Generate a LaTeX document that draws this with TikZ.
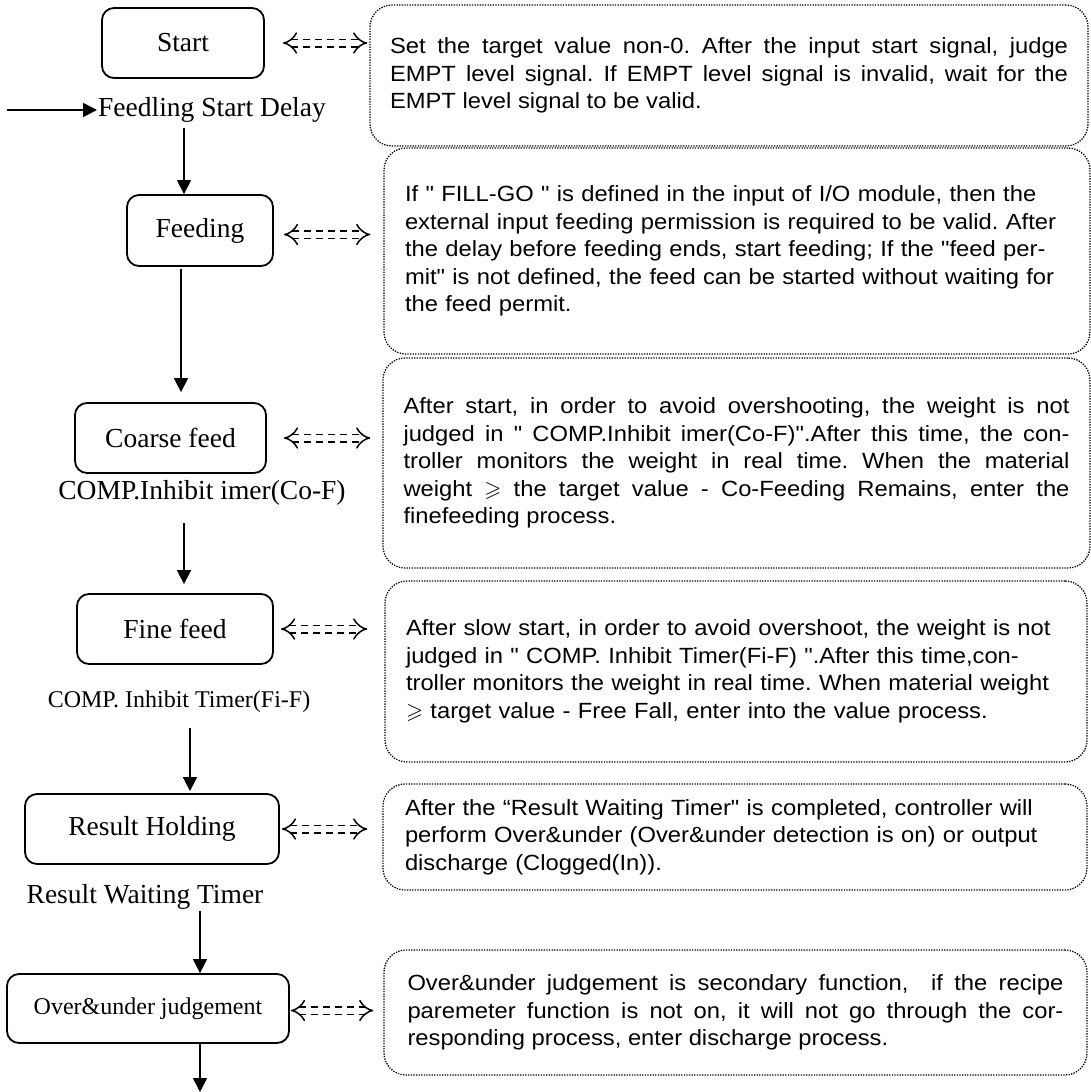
\documentclass[tikz,border=0pt]{standalone}
\usepackage{amssymb}
\usepackage{fontspec}
\setmainfont{Liberation Serif}
\newfontfamily\notefont[FakeStretch=1.08]{Liberation Sans}
\usepackage{tikz}
\usetikzlibrary{arrows.meta,positioning}
\tikzset{>={Triangle[width=14pt,length=14pt]}}
\tikzset{
  stepbox/.style={draw, line width=1.8pt, rounded corners=12pt, inner sep=0pt,
    font=\fontsize{27.5}{30}\selectfont},
  steplabel/.style={inner sep=1pt, font=\fontsize{27.5}{30}\selectfont},
  notebox/.style={draw, line width=1.3pt, dash pattern=on 1.3pt off 1.3pt,
    rounded corners=22pt, inner ysep=0pt, font=\notefont\fontsize{22}{27.5}\selectfont\frenchspacing},
  flow/.style={->, line width=1.6pt},
  link/.style={line width=1.5pt, dash pattern=on 7pt off 5pt, double, double distance=6pt,
    {Implies[length=10pt]}-{Implies[length=10pt]}},
}

\begin{document}
\begin{tikzpicture}[x=1pt, y=-1pt]
  \useasboundingbox (0,0) rectangle (1091,1092);

  % steps
  \node[stepbox, minimum width=162pt, minimum height=70pt] (start) at (183,43) {Start};
  \node[steplabel] (delay) at (212,110) {Feedling Start Delay};
  \node[stepbox, minimum width=146pt, minimum height=71pt] (feeding) at (200,230.5) {Feeding};
  \node[stepbox, minimum width=191pt, minimum height=70pt] (coarse) at (170.5,438) {Coarse feed};
  \node[steplabel] (coarset) at (202,493) {COMP.Inhibit imer(Co-F)};
  \node[stepbox, minimum width=196pt, minimum height=70pt] (fine) at (175,629) {Fine feed};
  \node[steplabel, font=\fontsize{24}{26}\selectfont] (finet) at (179,702) {COMP. Inhibit Timer(Fi-F)};
  \node[stepbox, minimum width=254pt, minimum height=70pt] (result) at (152,829) {Result Holding};
  \node[steplabel] (resultt) at (145,897) {Result Waiting Timer};
  \node[stepbox, minimum width=282pt, minimum height=69pt, font=\fontsize{24}{26}\selectfont] (judge) at (148,1008.5) {Over\&under judgement};
  \coordinate (in) at (7,110);
  \coordinate (out) at (200,1092);

  % notes
  \node[notebox, text width=678pt, inner xsep=20pt, minimum height=141pt, align=justify] (n1) at (729,75.5)
    {Set the target value non-0. After the input start signal, judge\linebreak
     EMPT level signal. If EMPT level signal is invalid, wait for the\linebreak
     EMPT level signal to be valid.};
  \node[notebox, text width=664pt, inner xsep=21pt, minimum height=206pt, align=left] (n2) at (737,251)
    {If " FILL-GO " is defined in the input of I/O module, then the\\
     external input feeding permission is required to be valid. After\\
     the delay before feeding ends, start feeding; If the "feed per-\\
     mit" is not defined, the feed can be started without waiting for\\
     the feed permit.};
  \node[notebox, text width=666pt, inner xsep=20.5pt, minimum height=210pt, align=justify] (n3) at (736.5,463)
    {After start, in order to avoid overshooting, the weight is not\linebreak
     judged in " COMP.Inhibit imer(Co-F)".After this time, the con-\linebreak
     troller monitors the weight in real time. When the material\linebreak
     weight $\geqslant$ the target value - Co-Feeding Remains, enter the\linebreak
     finefeeding process.};
  \node[notebox, text width=660pt, inner xsep=21pt, minimum height=181pt, align=left] (n4) at (736,671.5)
    {After slow start, in order to avoid overshoot, the weight is not\\
     judged in " COMP. Inhibit Timer(Fi-F) ".After this time,con-\\
     troller monitors the weight in real time. When material weight\\
     $\geqslant$\ target value - Free Fall, enter into the value process.};
  \node[notebox, text width=660pt, inner xsep=22pt, minimum height=106pt, align=left] (n5) at (735,837)
    {After the “Result Waiting Timer" is completed, controller will\\
     perform Over\&under (Over\&under detection is on) or output\\
     discharge (Clogged(In)).};
  \node[notebox, text width=656pt, inner xsep=23.5pt, minimum height=125pt, align=justify] (n6) at (735.5,1012.5)
    {Over\&under judgement is secondary function,~~if the recipe\linebreak
     paremeter function is not on, it will not go through the cor-\linebreak
     responding process, enter discharge process.};

  % flow
  \draw[flow] (in) -- (delay.west);
  \draw[flow, shorten <=4pt] ([xshift=-28pt]delay.south) -- ([xshift=-16pt]feeding.north); %% delay->feeding
  \draw[flow, shorten <=2pt, shorten >=10pt] ([xshift=-19pt]feeding.south) -- ([xshift=10.5pt]coarse.north); %% feeding->coarse
  \draw[flow, shorten <=16pt, shorten >=9pt] ([xshift=-18pt]coarset.south) -- ([xshift=9pt]fine.north); %% coarse->fine
  \draw[flow, shorten <=14pt, shorten >=2pt] ([xshift=11pt]finet.south) -- ([xshift=38pt]result.north); %% fine->result
  \draw[flow] ([xshift=55pt]resultt.south) -- ([xshift=52pt]judge.north); %% result->judge
  \draw[flow] ([xshift=52pt]judge.south) -- (out); %% judge->out

  % links
  \draw[link, shorten <=18pt, shorten >=2pt] (start.east) -- (start.east -| n1.west);
  \draw[link, shorten <=10pt, shorten >=13pt] ([yshift=-4pt]feeding.east) -- ([yshift=-4pt]feeding.east -| n2.west);
  \draw[link, shorten <=17pt, shorten >=12pt] (coarse.east) -- (coarse.east -| n3.west);
  \draw[link, shorten <=7pt, shorten >=17pt] (fine.east) -- (fine.east -| n4.west);
  \draw[link, shorten <=2pt, shorten >=15pt] (result.east) -- (result.east -| n5.west);
  \draw[link, shorten <=1pt, shorten >=10pt] ([yshift=-2pt]judge.east) -- ([yshift=-2pt]judge.east -| n6.west);

\end{tikzpicture}
\end{document}
